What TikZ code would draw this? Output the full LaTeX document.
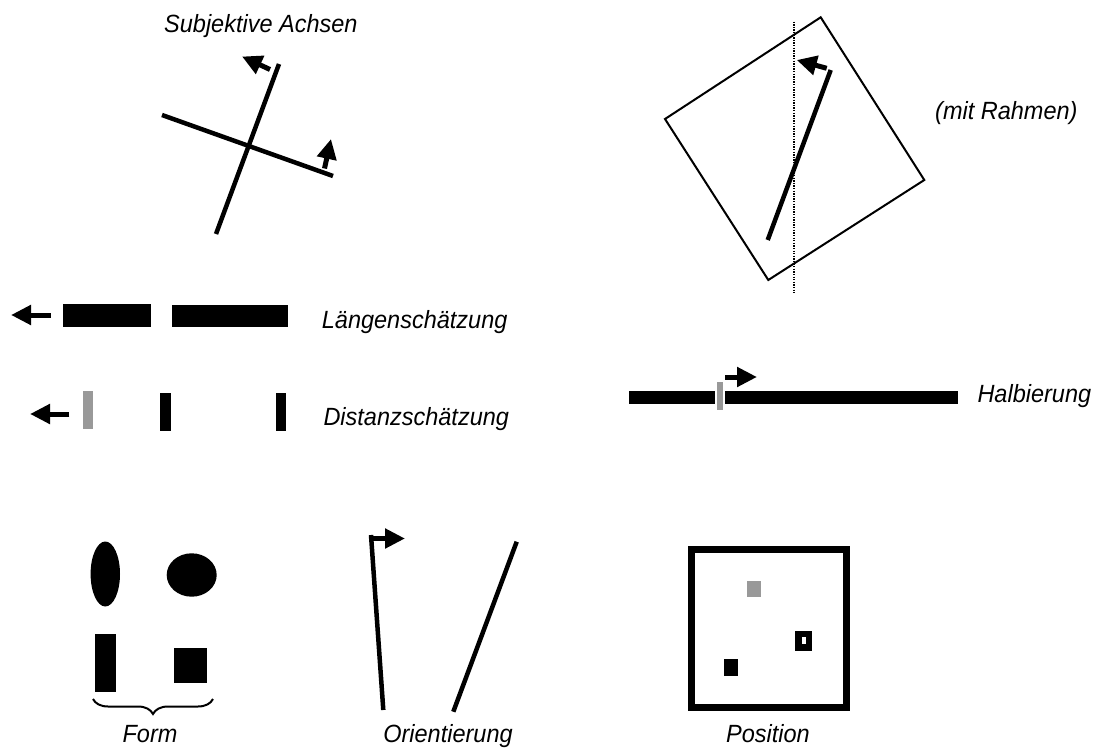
\documentclass[tikz,border=0pt]{standalone}
\usepackage{fontspec}
\setmainfont{Liberation Sans}
\usetikzlibrary{arrows.meta,decorations.pathreplacing}
\definecolor{mgray}{HTML}{999999}
\begin{document}
\begin{tikzpicture}[x=1pt,y=-1pt,
  lbl/.style={font=\fontsize{23.5}{28}\selectfont\itshape, inner sep=0pt, yscale=1.06},
  thickln/.style={line width=4.5pt},
  thinln/.style={line width=2pt},
  arr/.style={line width=5pt,-{Triangle[length=20pt,width=19pt]}},
  blk/.style={fill=black},
  gry/.style={fill=mgray}]
\useasboundingbox (0,0) rectangle (1094,749);

% labels
\node[lbl,anchor=base west] (lsub) at (164,32.7) {Subjektive Achsen};
\node[lbl,anchor=base west] (lrah) at (935,120) {(mit Rahmen)};
\node[lbl,anchor=base west] (llen) at (321.7,328.3) {Längenschätzung};
\node[lbl,anchor=base west] (ldis) at (323.3,425) {Distanzschätzung};
\node[lbl,anchor=base west] (lhal) at (977.3,402.7) {Halbierung};
\node[lbl,anchor=base] (lform) at (150,742) {Form};
\node[lbl,anchor=base] (lori) at (448,742) {Orientierung};
\node[lbl,anchor=base] (lpos) at (768,742) {Position};

% subjektive Achsen
\coordinate (sa1) at (279,64);
\coordinate (sa2) at (216,234);
\coordinate (sb1) at (162,115);
\coordinate (sb2) at (333,176);
\draw[thickln] (sa1) -- (sa2);
\draw[thickln] (sb1) -- (sb2);
\coordinate (sp1) at (270,69.5);
\coordinate (st1) at (242,56.5);
\draw[arr] (sp1) -- (st1);
\coordinate (sp2) at (324.5,168.5);
\coordinate (st2) at (331,139);
\draw[arr] (sp2) -- (st2);

% mit Rahmen
\coordinate (ra) at (820.7,17.3);
\coordinate (rb) at (924.3,180);
\coordinate (rc) at (768.3,280);
\coordinate (rd) at (665,119);
\draw[thinln] (ra) -- (rb) -- (rc) -- (rd) -- cycle;
\coordinate (dv1) at (794,21.7);
\coordinate (dv2) at (794,293);
\draw[line width=1.3pt,dash pattern=on 1.3pt off 1.3pt] (dv1) -- (dv2);
\coordinate (rl1) at (830.7,70);
\coordinate (rl2) at (767.7,240);
\draw[thickln] (rl1) -- (rl2);
\coordinate (rp) at (826.7,68.3);
\coordinate (rt) at (796.7,60);
\draw[arr] (rp) -- (rt);

% Laengenschaetzung
\coordinate (lp) at (50.7,315);
\coordinate (lt) at (11,315);
\draw[arr] (lp) -- (lt);
\fill[blk] (62.7,304) rectangle (150.7,326.7);
\fill[blk] (172.3,304.5) rectangle (288.3,326.7);

% Distanzschaetzung
\coordinate (dp) at (69.3,414);
\coordinate (dt) at (30,414);
\draw[arr] (dp) -- (dt);
\fill[gry] (83.3,391) rectangle (92.7,429);
\fill[blk] (160,393.3) rectangle (170.7,431);
\fill[blk] (275.7,393.3) rectangle (286,431);

% Halbierung
\fill[blk] (629.3,390.7) rectangle (957.7,404.3);
\fill[white] (714.9,389) rectangle (724.9,406);
\fill[gry] (716.7,381.7) rectangle (722.7,410);
\coordinate (hp) at (725,377);
\coordinate (ht) at (757,377);
\draw[arr] (hp) -- (ht);

% Form
\fill[blk] (105.3,574) ellipse [x radius=14.7, y radius=32.5];
\fill[blk] (191.7,575) ellipse [x radius=25, y radius=21.7];
\fill[blk] (95,634.3) rectangle (115.7,692.3);
\fill[blk] (174,647.7) rectangle (207.3,683.3);
\coordinate (br1) at (93,699);
\coordinate (br2) at (213,699);
\draw[thinln,decorate,decoration={brace,mirror,amplitude=15pt}] (br1) -- (br2);

% Orientierung
\coordinate (o1a) at (371,535);
\coordinate (o1b) at (383.3,710);
\draw[thickln] (o1a) -- (o1b);
\coordinate (op) at (373,538.5);
\coordinate (ot) at (405,538.5);
\draw[arr] (op) -- (ot);
\coordinate (o2a) at (516.7,541.7);
\coordinate (o2b) at (453.3,711.7);
\draw[thickln] (o2a) -- (o2b);

% Position
\draw[line width=6.7pt] (691.7,549.3) rectangle (846.7,707.3);
\fill[gry] (746.7,580.7) rectangle (760.7,596.7);
\fill[blk] (795,630.7) rectangle (812.3,650.7);
\fill[white] (801.7,636.7) rectangle (806,644);
\fill[blk] (724.3,659.3) rectangle (738.3,676);
\end{tikzpicture}
\end{document}
